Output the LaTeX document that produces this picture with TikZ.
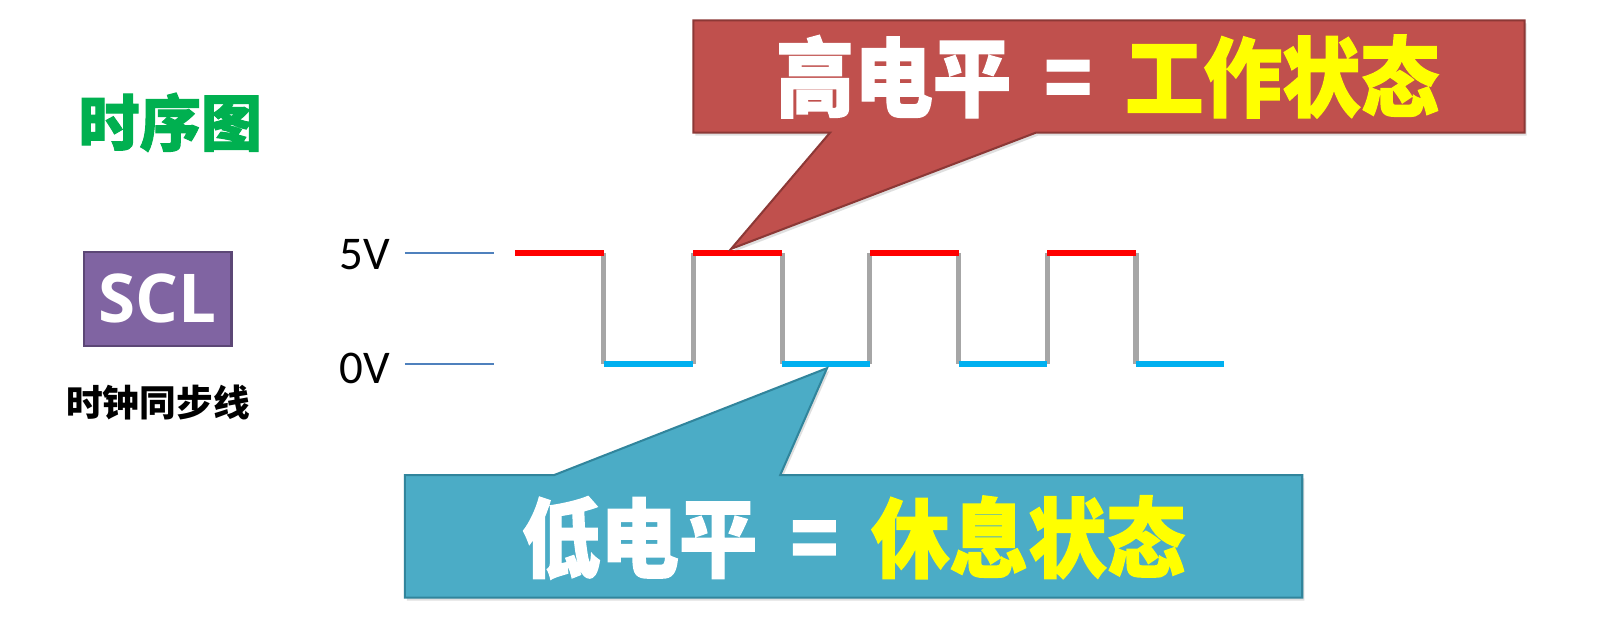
\documentclass[tikz,border=0pt]{standalone}
\usepackage{fontspec}
\usepackage{graphicx}
\usetikzlibrary{shadows}
\newfontfamily\cjk{Noto Sans CJK SC}
\newfontfamily\cjkheavy{Noto Sans CJK SC}[BoldFeatures={FakeBold=1.6}]
\newfontfamily\carlito{Carlito}
\newfontfamily\opensans{Open Sans}
\definecolor{titlegreen}{HTML}{00B050}
\definecolor{sclfill}{HTML}{8064A2}
\definecolor{sclborder}{HTML}{5C4776}
\definecolor{redfill}{HTML}{C0504D}
\definecolor{redborder}{HTML}{8C3836}
\definecolor{bluefill}{HTML}{4BACC6}
\definecolor{blueborder}{HTML}{31859C}
\definecolor{hired}{HTML}{FF0000}
\definecolor{lowblue}{HTML}{00B0F0}
\definecolor{edgegray}{HTML}{A6A6A6}
\definecolor{tickblue}{HTML}{4F81BD}
\definecolor{hiyellow}{HTML}{FFFF00}
\begin{document}
\begin{tikzpicture}[x=0.5pt,y=-0.5pt,
  callout/.style={line width=1pt, drop shadow={opacity=0.25, shadow xshift=1pt, shadow yshift=-1.5pt}},
  bigtext/.style={inner sep=0pt, font=\cjkheavy\bfseries\fontsize{38.5}{40}\selectfont},
  levellabel/.style={inner sep=0pt, font=\carlito\fontsize{23}{24}\selectfont},
  tickline/.style={draw=tickblue, line width=0.75pt},
  hiseg/.style={draw=hired, line width=2.7pt},
  loseg/.style={draw=lowblue, line width=2.7pt},
  edgeseg/.style={draw=edgegray, line width=2.5pt}]
\useasboundingbox (0,0) rectangle (1568,623);
\fill[white] (0,0) rectangle (1568,623);

% left column
\node[inner sep=0pt, text=titlegreen, font=\cjkheavy\bfseries\fontsize{30}{30}\selectfont] (title) at (167,120) {时序图};
\node[draw=sclborder, fill=sclfill, line width=1pt, minimum width=72.5pt, minimum height=46pt, inner sep=0pt,
      text=white, font=\opensans\bfseries\fontsize{33}{34}\selectfont] (scl) at (154.5,293) {SCL};
\node[inner sep=0pt, font=\cjk\bfseries\fontsize{18}{18}\selectfont] (scldesc) at (155,395) {时钟同步线};

% level labels and ticks
\node[levellabel] (v5) at (358,250) {5V};
\node[levellabel] (v0) at (358,361) {0V};
\coordinate (t5a) at (397,248); \coordinate (t5b) at (484,248);
\coordinate (t0a) at (397,357); \coordinate (t0b) at (484,357);
\draw[tickline] (t5a) -- (t5b);
\draw[tickline] (t0a) -- (t0b);

% waveform
\foreach \x in {592,680,767,853,940,1027,1114} {
  \draw[edgeseg] (\x,248) -- (\x,357);
}
\foreach \a/\b in {505/592,680/767,853/940,1027/1114} {
  \draw[hiseg] (\a,248) -- (\b,248);
}
\foreach \a/\b in {592/680,767/853,940/1027,1114/1200} {
  \draw[loseg] (\a,357) -- (\b,357);
}

% red callout
\filldraw[callout, fill=redfill, draw=redborder]
  (680,20) -- (1495,20) -- (1495,130) -- (1016,130) -- (717,244) -- (814,130) -- (680,130) -- cycle;
\node[bigtext] (hitext) at (1086,75) {\scalebox{1}[1.1]{\textcolor{white}{高电平}\hspace{0.42em}\textcolor{white}{=}\hspace{0.42em}\textcolor{hiyellow}{工作状态}}};

% blue callout
\filldraw[callout, fill=bluefill, draw=blueborder]
  (397,466) -- (543,466) -- (811,361) -- (765,466) -- (1277,466) -- (1277,586) -- (397,586) -- cycle;
\node[bigtext] (lotext) at (837,527) {\scalebox{1}[1.1]{\textcolor{white}{低电平}\hspace{0.42em}\textcolor{white}{=}\hspace{0.42em}\textcolor{hiyellow}{休息状态}}};
\end{tikzpicture}
\end{document}
